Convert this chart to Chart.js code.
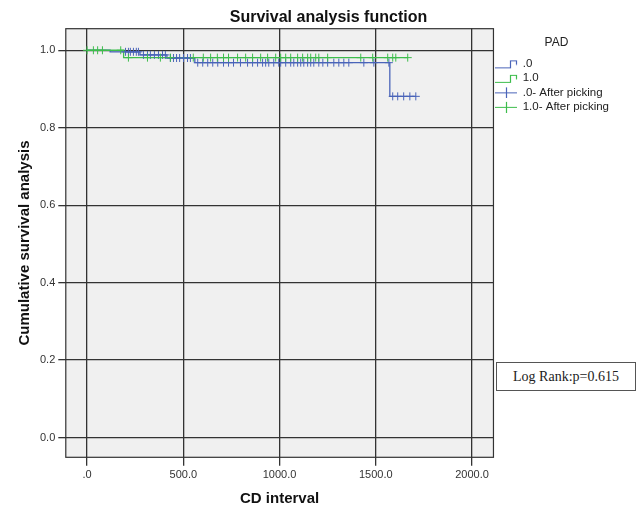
<!DOCTYPE html>
<html>
<head>
<meta charset="utf-8">
<script src="https://cdn.jsdelivr.net/npm/chart.js@4.4.1/dist/chart.umd.min.js"></script>
<style>
  html, body { margin: 0; padding: 0; background: #ffffff; }
  #wrap { position: relative; width: 641px; height: 510px; }
  #logrank {
    position: absolute; left: 496px; top: 362px; width: 140px; height: 29px;
    border: 1px solid #555; box-sizing: border-box; background: #fff;
    font-family: "Liberation Serif", "Times New Roman", serif; font-size: 14px; color: #222;
    display: flex; align-items: center; justify-content: center;
  }
</style>
</head>
<body>
<div id="wrap">
  <canvas id="c" width="641" height="510"></canvas>
  <div id="logrank">Log Rank:p=0.615</div>
</div>
<script>
// ---- data ----
const seriesNames = ['.0', '1.0', '.0- After picking', '1.0- After picking'];
const xTicks = [0, 500, 1000, 1500, 2000];
const yTicks = [0.0, 0.2, 0.4, 0.6, 0.8, 1.0];

// group .0 (blue): event times and survival after each event
const blueTimes = [0, 120, 275, 415, 560, 1573];
const blueSurv  = [1.0, 0.996, 0.988, 0.980, 0.968, 0.881];
const blueEnd = 1708;
const blueCensor = [200, 215, 225, 241, 256, 267, 293, 314, 329, 350, 371, 392, 407, 433, 449, 465, 481, 501, 522, 537,
  575, 601, 627, 653, 679, 709, 735, 761, 797, 834, 860, 886, 912, 928, 944, 970, 996, 1006, 1032, 1058, 1074, 1094,
  1110, 1126, 1146, 1162, 1178, 1204, 1225, 1250, 1282, 1308, 1334, 1360, 1438, 1490, 1568, 1588, 1614, 1645, 1677, 1708];

// group 1.0 (green)
const greenTimes = [0, 190];
const greenSurv  = [1.0, 0.981];
const greenEnd = 1666;
const greenCensor = [0, 33, 55, 80, 175, 215, 314, 381, 433, 552, 604, 642, 677, 709, 735, 782, 824, 860, 902, 938, 980,
  1006, 1032, 1058, 1094, 1120, 1146, 1162, 1188, 1204, 1250, 1422, 1484, 1562, 1588, 1604, 1666];

const blueColor = '#4a64b9';
const greenColor = '#3dbd4c';
const FONT = '"Liberation Sans", Arial, Helvetica, sans-serif';

function stepPoints(times, surv, end) {
  const pts = times.map((t, i) => ({x: t, y: surv[i]}));
  pts.push({x: end, y: surv[surv.length - 1]});
  return pts;
}
function levelAt(times, surv, t) {
  let s = surv[0];
  for (let i = 0; i < times.length; i++) { if (times[i] <= t) s = surv[i]; }
  return s;
}
function censorPoints(times, surv, cens) {
  return cens.map(t => ({x: t, y: levelAt(times, surv, t)}));
}

// legend icons
function makeIcon(color, kind) {
  const c = document.createElement('canvas');
  c.width = 24; c.height = 12;
  const g = c.getContext('2d');
  g.strokeStyle = color; g.lineWidth = 1.2;
  g.beginPath();
  if (kind === 'step') {
    g.moveTo(0, 10.5); g.lineTo(15.5, 10.5); g.lineTo(15.5, 3.5); g.lineTo(21.5, 3.5); g.lineTo(21.5, 7.5);
  } else {
    g.moveTo(0, 6.5); g.lineTo(22, 6.5); g.moveTo(11.5, 1); g.lineTo(11.5, 12);
  }
  g.stroke();
  return c;
}
const icons = [makeIcon(blueColor, 'step'), makeIcon(greenColor, 'step'), makeIcon(blueColor, 'cross'), makeIcon(greenColor, 'cross')];

const plotFrame = {
  id: 'plotFrame',
  afterLayout(chart) {
    // shift the title's box so its centre matches the reference
    if (chart.titleBlock) { chart.titleBlock.left += 36; }
  },
  beforeDraw(chart) {
    const {ctx, chartArea: a} = chart;
    ctx.save();
    ctx.fillStyle = '#f0f0f0';
    ctx.fillRect(a.left, a.top, a.right - a.left, a.bottom - a.top);
    ctx.restore();
  },
  afterDraw(chart) {
    const {ctx, chartArea: a} = chart;
    ctx.save();
    ctx.strokeStyle = '#333333'; ctx.lineWidth = 1.2;
    ctx.strokeRect(a.left + 0.5, a.top + 0.5, a.right - a.left - 1, a.bottom - a.top - 1);
    ctx.restore();
  }
};

new Chart(document.getElementById('c'), {
  type: 'scatter',
  data: {
    datasets: [
      { label: seriesNames[0], data: stepPoints(blueTimes, blueSurv, blueEnd), showLine: true, stepped: 'before',
        borderColor: blueColor, borderWidth: 1.3, pointRadius: 0, order: 4 },
      { label: seriesNames[1], data: stepPoints(greenTimes, greenSurv, greenEnd), showLine: true, stepped: 'before',
        borderColor: greenColor, borderWidth: 1.3, pointRadius: 0, order: 3 },
      { label: seriesNames[2], data: censorPoints(blueTimes, blueSurv, blueCensor), showLine: false,
        pointStyle: 'cross', pointRadius: 4, borderColor: blueColor, backgroundColor: blueColor, borderWidth: 1, order: 2 },
      { label: seriesNames[3], data: censorPoints(greenTimes, greenSurv, greenCensor), showLine: false,
        pointStyle: 'cross', pointRadius: 4, borderColor: greenColor, backgroundColor: greenColor, borderWidth: 1, order: 1 }
    ]
  },
  options: {
    responsive: false,
    animation: false,
    layout: { padding: { left: 2, right: 22, top: 0, bottom: 0 } },
    plugins: {
      tooltip: { enabled: false },
      title: {
        display: true, text: 'Survival analysis function', color: '#111',
        font: { family: FONT, size: 16, weight: 'bold' }, padding: { top: 8, bottom: 1 }
      },
      legend: {
        position: 'right', align: 'start', fullSize: false,
        title: { display: true, text: 'PAD', color: '#222', font: { family: FONT, size: 12 }, padding: { top: 8, bottom: 4 } },
        labels: {
          color: '#222', font: { family: FONT, size: 11.5 }, usePointStyle: true, pointStyleWidth: 20, padding: 3,
          generateLabels: () => seriesNames.map((n, i) => ({ text: n, pointStyle: icons[i], fillStyle: 'transparent',
            strokeStyle: 'transparent', lineWidth: 0, hidden: false, datasetIndex: i, fontColor: '#222' }))
        }
      }
    },
    scales: {
      x: {
        type: 'linear', min: -113, max: 2114,
        afterBuildTicks: s => { s.ticks = xTicks.map(v => ({value: v})); },
        ticks: { color: '#333', font: { family: FONT, size: 11 }, padding: 3,
          callback: v => v === 0 ? '.0' : v.toFixed(1) },
        grid: { color: '#333333', lineWidth: 1.3, tickLength: 8, tickColor: '#333333' },
        border: { display: false },
        title: { display: true, text: 'CD interval', color: '#111', font: { family: FONT, size: 15, weight: 'bold' },
          padding: { top: 5, bottom: 2 } }
      },
      y: {
        type: 'linear', min: -0.0525, max: 1.057,
        afterBuildTicks: s => { s.ticks = yTicks.map(v => ({value: v})); },
        ticks: { color: '#333', font: { family: FONT, size: 11 }, padding: 3, callback: v => v.toFixed(1) },
        grid: { color: '#333333', lineWidth: 1.3, tickLength: 7, tickColor: '#333333' },
        border: { display: false },
        title: { display: true, text: 'Cumulative survival analysis', color: '#111',
          font: { family: FONT, size: 15, weight: 'bold' }, padding: { top: 14, bottom: 3 } }
      }
    }
  },
  plugins: [plotFrame]
});
</script>
</body>
</html>
